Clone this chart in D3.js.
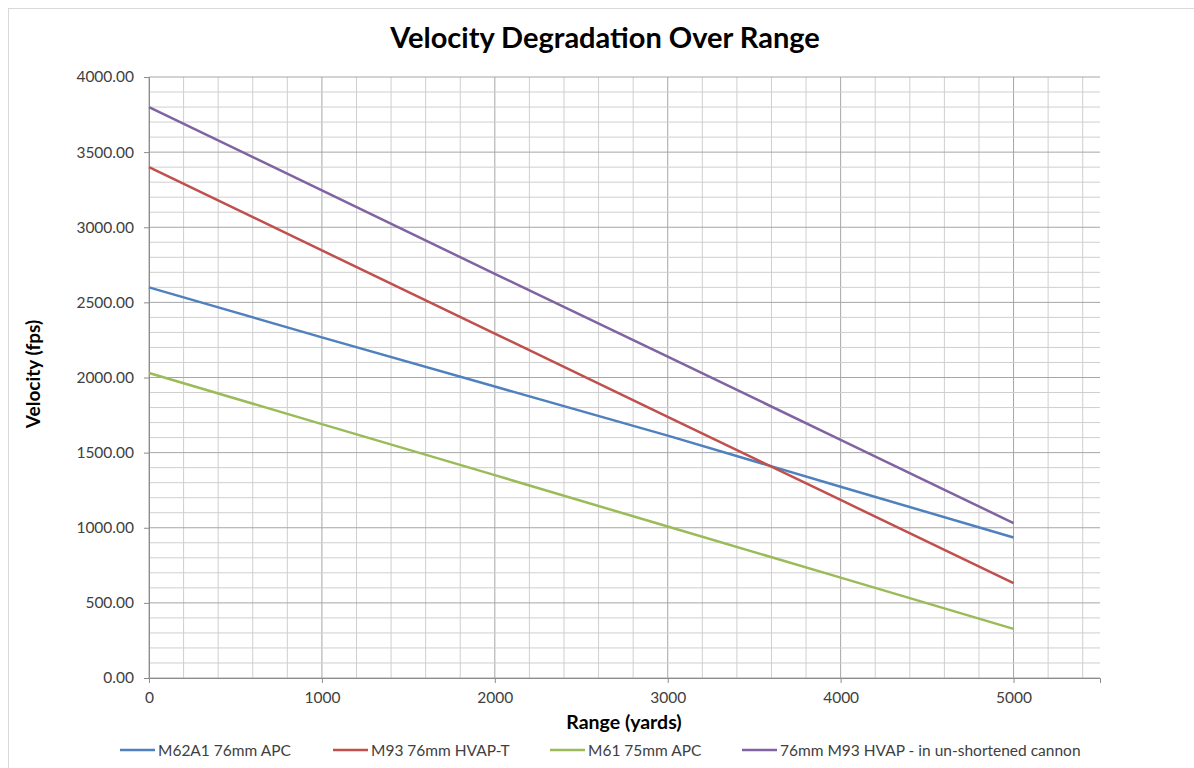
<!DOCTYPE html>
<html><head><meta charset="utf-8">
<script src="https://cdn.jsdelivr.net/npm/d3@7"></script>
<style>body{margin:0;background:#fff}svg{display:block}text{font-family:Lato,"Open Sans",sans-serif}</style>
</head><body><svg id="c" width="1194" height="768"></svg>
<script>
const ranges = [0, 1000, 2000, 3000, 4000, 5000];
const seriesNames = ["M62A1 76mm APC", "M93 76mm HVAP-T", "M61 75mm APC", "76mm M93 HVAP - in un-shortened cannon"];
const m62a1 = [2600, 2267, 1940, 1613, 1273, 935];
const m93 = [3400, 2846, 2292, 1738, 1185, 631];
const m61 = [2030, 1690, 1350, 1008, 668, 327];
const m93long = [3800, 3245, 2690, 2139, 1585, 1031];
const seriesValues = [m62a1, m93, m61, m93long];
const colors = ["#4f81bd", "#c0504d", "#9bbb59", "#8064a2"];
const xTicks = [0, 1000, 2000, 3000, 4000, 5000];
const yTicks = [0, 500, 1000, 1500, 2000, 2500, 3000, 3500, 4000];
const title = "Velocity Degradation Over Range";
const xTitle = "Range (yards)";
const yTitle = "Velocity (fps)";

const svg = d3.select("#c");
svg.append("rect").attr("x", 8.5).attr("y", 8.5).attr("width", 1200).attr("height", 800)
  .attr("fill", "#fff").attr("stroke", "#d9d9d9");

const x = d3.scaleLinear().domain([0, 5500]).range([149, 1100]);
const y = d3.scaleLinear().domain([0, 4000]).range([678, 77]);

const g = svg.append("g");
d3.range(0, 5501, 200).forEach(v => {
  g.append("line").attr("x1", x(v)).attr("x2", x(v)).attr("y1", y(0)).attr("y2", y(4000))
    .attr("stroke", v % 1000 === 0 ? "#a6a6a6" : "#cfcfcf").attr("stroke-width", 1);
});
d3.range(0, 4001, 100).forEach(v => {
  g.append("line").attr("x1", x(0)).attr("x2", x(5500)).attr("y1", y(v)).attr("y2", y(v))
    .attr("stroke", v % 500 === 0 ? "#a6a6a6" : "#cfcfcf").attr("stroke-width", 1);
});

const yAxis = d3.axisLeft(y).tickValues(yTicks).tickFormat(d3.format(".2f")).tickSize(5).tickPadding(10);
const ya = svg.append("g").attr("transform", `translate(${x(0)},0)`).call(yAxis);
const xAxis = d3.axisBottom(x).tickValues(xTicks).tickFormat(d3.format("d")).tickSize(5).tickPadding(9);
const xa = svg.append("g").attr("transform", `translate(0,${y(0)})`).call(xAxis);
[ya, xa].forEach(a => {
  a.select(".domain").attr("stroke", "#8c8c8c");
  a.selectAll(".tick line").attr("stroke", "#8c8c8c");
  a.selectAll(".tick text").attr("fill", "#404040").style("font-size", "15.5px");
});

const line = d3.line().x((d, i) => x(ranges[i])).y(d => y(d));
seriesValues.forEach((vals, i) => {
  svg.append("path").datum(vals).attr("d", line).attr("fill", "none")
    .attr("stroke", colors[i]).attr("stroke-width", 2.5);
});

svg.append("text").attr("x", 605).attr("y", 48).attr("text-anchor", "middle")
  .style("font-size", "29px").style("font-weight", "bold").attr("fill", "#000").text(title);
svg.append("text").attr("x", 624).attr("y", 729).attr("text-anchor", "middle")
  .style("font-size", "19.5px").style("font-weight", "bold").attr("fill", "#000").text(xTitle);
svg.append("text").attr("transform", "translate(40,374) rotate(-90)").attr("text-anchor", "middle")
  .style("font-size", "19px").style("font-weight", "bold").attr("fill", "#000").text(yTitle);

const legendPos = [[120, 155], [333, 368], [550, 585], [742, 777]];
seriesNames.forEach((n, i) => {
  const [a, b] = legendPos[i];
  svg.append("line").attr("x1", a).attr("x2", b).attr("y1", 750).attr("y2", 750)
    .attr("stroke", colors[i]).attr("stroke-width", 2.5);
  svg.append("text").attr("x", b + 3).attr("y", 755.5).style("font-size", "15.5px")
    .attr("fill", "#404040").text(n);
});
</script></body></html>
